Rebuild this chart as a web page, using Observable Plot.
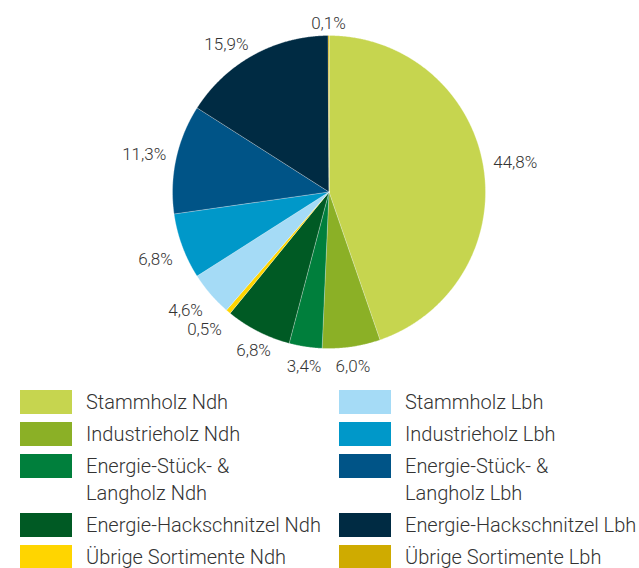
<!DOCTYPE html>
<html>
<head>
<meta charset="utf-8">
<script src="https://cdn.jsdelivr.net/npm/d3@7"></script>
<script src="https://cdn.jsdelivr.net/npm/@observablehq/plot@0.6"></script>
<style>
  html, body { margin: 0; padding: 0; background: #fff; }
  body { width: 639px; height: 568px; overflow: hidden; font-family: Roboto, "Open Sans", sans-serif; color: #333; }
  #legend { display: grid; grid-template-columns: 319px 300px; padding-left: 20px; row-gap: 8px; }
  .item { display: flex; align-items: flex-start; }
  .sw { width: 52px; height: 24px; flex: none; margin-right: 14px; }
  .tx { font-size: 20px; font-weight: 300; line-height: 27px; margin-top: -1.5px; margin-bottom: -1.5px; white-space: nowrap; color: #333; }
</style>
</head>
<body>
<div id="chart"></div>
<div id="legend"></div>
<script>
// Categories (clockwise from 12 o'clock)
const categories = [
  "Stammholz Ndh",
  "Industrieholz Ndh",
  "Energie-Stück- & Langholz Ndh",
  "Energie-Hackschnitzel Ndh",
  "Übrige Sortimente Ndh",
  "Stammholz Lbh",
  "Industrieholz Lbh",
  "Energie-Stück- & Langholz Lbh",
  "Energie-Hackschnitzel Lbh",
  "Übrige Sortimente Lbh"
];
const values = [44.8, 6.0, 3.4, 6.8, 0.5, 4.6, 6.8, 11.3, 15.9, 0.1];
const valueLabels = ["44,8%", "6,0%", "3,4%", "6,8%", "0,5%", "4,6%", "6,8%", "11,3%", "15,9%", "0,1%"];
const colors = ["#c6d54f", "#8bb026", "#007f3c", "#005a24", "#ffd500", "#a5dbf6", "#0098c9", "#005487", "#002b43", "#cfab00"];
// Legend rows: [left column, right column]
const legendLines = [
  ["Stammholz Ndh", "Stammholz Lbh"],
  ["Industrieholz Ndh", "Industrieholz Lbh"],
  ["Energie-Stück- &\nLangholz Ndh", "Energie-Stück- &\nLangholz Lbh"],
  ["Energie-Hackschnitzel Ndh", "Energie-Hackschnitzel Lbh"],
  ["Übrige Sortimente Ndh", "Übrige Sortimente Lbh"]
];

const W = 639, H = 390, CX = 328.5, CY = 191.5, R = 156.5;

const rows = categories.map((c, i) => ({category: c, value: values[i], label: valueLabels[i]}));
const arcs = d3.pie().sort(null).value(d => d.value)(rows);

// slice polygons in unit coordinates (y up, angle clockwise from top)
const features = arcs.map(a => {
  const pts = [[0, 0]];
  const n = Math.max(2, Math.ceil((a.endAngle - a.startAngle) / 0.005));
  for (let k = 0; k <= n; k++) {
    const t = a.startAngle + (a.endAngle - a.startAngle) * k / n;
    pts.push([Math.sin(t), Math.cos(t)]);
  }
  pts.push([0, 0]);
  return {type: "Feature", properties: {category: a.data.category}, geometry: {type: "Polygon", coordinates: [pts]}};
});

// label positions
const labelRows = arcs.map(a => {
  const m = (a.startAngle + a.endAngle) / 2;
  const s = Math.sin(m), c = Math.cos(m);
  const r = (R + 10) / R;
  const dyPx = c < 0 ? 10 : -2;
  let anchor;
  if (Math.abs(s) < 0.3) anchor = "middle";
  else if (c < 0 && Math.abs(s) < 0.5) anchor = "middle";
  else anchor = s > 0 ? "start" : "end";
  return {label: a.data.label, x: r * s, y: r * c - dyPx / R, anchor};
});

const projection = d3.geoIdentity().reflectY(true).scale(R).translate([CX, CY]);

const textOpts = {x: "x", y: "y", text: "label", fontSize: 17, fontWeight: 300, fill: "#333", fontFamily: "Roboto, sans-serif"};

const plot = Plot.plot({
  width: W,
  height: H,
  margin: 0,
  projection,
  color: {domain: categories, range: colors},
  marks: [
    Plot.geo(features, {fill: d => d.properties.category, stroke: "#fff", strokeWidth: 0.5, strokeOpacity: 0.6}),
    Plot.text(labelRows.filter(d => d.anchor === "start"), {...textOpts, textAnchor: "start"}),
    Plot.text(labelRows.filter(d => d.anchor === "middle"), {...textOpts, textAnchor: "middle"}),
    Plot.text(labelRows.filter(d => d.anchor === "end"), {...textOpts, textAnchor: "end"})
  ]
});
plot.style.display = "block";
document.getElementById("chart").appendChild(plot);

// legend
const legend = document.getElementById("legend");
legendLines.forEach(pair => {
  pair.forEach(txt => {
    const key = txt.replace("\n", " ");
    const idx = categories.indexOf(key);
    const item = document.createElement("div");
    item.className = "item";
    const sw = document.createElement("div");
    sw.className = "sw";
    sw.style.background = colors[idx];
    const tx = document.createElement("div");
    tx.className = "tx";
    txt.split("\n").forEach((line, j) => {
      if (j > 0) tx.appendChild(document.createElement("br"));
      tx.appendChild(document.createTextNode(line));
    });
    item.appendChild(sw);
    item.appendChild(tx);
    legend.appendChild(item);
  });
});
</script>
</body>
</html>
